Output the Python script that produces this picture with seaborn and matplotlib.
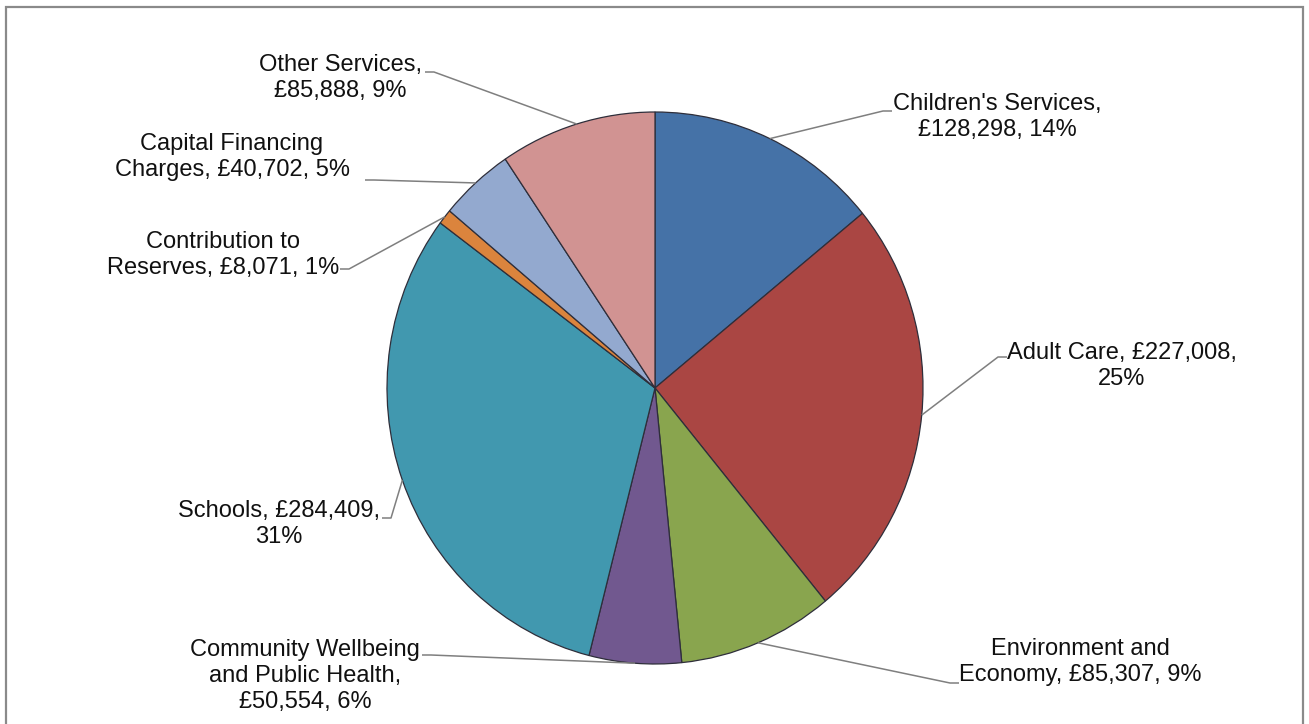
import numpy as np
import matplotlib
matplotlib.use("Agg")
import matplotlib.pyplot as plt
import seaborn as sns
from matplotlib.patches import Rectangle

# ---- data ----
categories = ["Children's Services", "Adult Care", "Environment and Economy",
              "Community Wellbeing and Public Health", "Schools",
              "Contribution to Reserves", "Capital Financing Charges", "Other Services"]
values = [128298, 227008, 85307, 50554, 284409, 8071, 40702, 85888]
label_texts = [
    "Children's Services,\n£128,298, 14%",
    "Adult Care, £227,008,\n25%",
    "Environment and\nEconomy, £85,307, 9%",
    "Community Wellbeing\nand Public Health,\n£50,554, 6%",
    "Schools, £284,409,\n31%",
    "Contribution to\nReserves, £8,071, 1%",
    "Capital Financing\nCharges, £40,702, 5%",
    "Other Services,\n£85,888, 9%",
]
colors = ["#4572A7", "#AA4643", "#89A54E", "#71588F", "#4198AF",
          "#DB843D", "#93A9CF", "#D19392"]

# ---- layout (pixels) ----
W, H = 1309, 724
CX, CY, RX, RY = 655, 388, 268, 276
label_center_px = [(997, 117), (1122, 366), (1080, 662), (305, 676),
                   (279, 524), (223, 255), (232, 157), (340, 78)]
leader_edge_px = [(892, 111), (1007, 357), (959, 683), (422, 655),
                  (382, 518), (340, 269), (365, 180), (425, 72)]

def dx(px):
    return (px - CX) / RX

def dy(py):
    return (CY - py) / RY

sns.set_theme(style="white")
plt.rcParams["font.family"] = ["Liberation Sans", "DejaVu Sans"]

fig = plt.figure(figsize=(W / 100, H / 100), dpi=100)
ax = fig.add_axes([0, 0, 1, 1])
wedges, _ = ax.pie(values, colors=colors, startangle=90, counterclock=False,
                   radius=1.0, wedgeprops=dict(edgecolor="#2e2e3a", linewidth=0.9))
ax.set_aspect("auto")
ax.set_xlim(dx(0), dx(W))
ax.set_ylim(dy(H), dy(0))
ax.axis("off")

for w, txt, (tx, ty), (ex, ey) in zip(wedges, label_texts, label_center_px, leader_edge_px):
    mid = np.deg2rad((w.theta1 + w.theta2) / 2)
    wx, wy = np.cos(mid), np.sin(mid)
    side = 1 if ex < CX else -1
    xs = [dx(ex), dx(ex + 9 * side), wx]
    ys = [dy(ey), dy(ey), wy]
    ax.plot(xs, ys, color="#7f7f7f", lw=1.1, solid_capstyle="butt", zorder=1)
    ax.text(dx(tx), dy(ty), txt, ha="center", va="center", multialignment="center",
            fontsize=17, color="#111111", linespacing=1.22)

fig.add_artist(Rectangle((6 / W, -0.02), 1297 / W, 1.02 - 7 / H,
                         transform=fig.transFigure, fill=False,
                         edgecolor="#8a8a8a", linewidth=1.6))

fig.savefig("out.png", dpi=100)
